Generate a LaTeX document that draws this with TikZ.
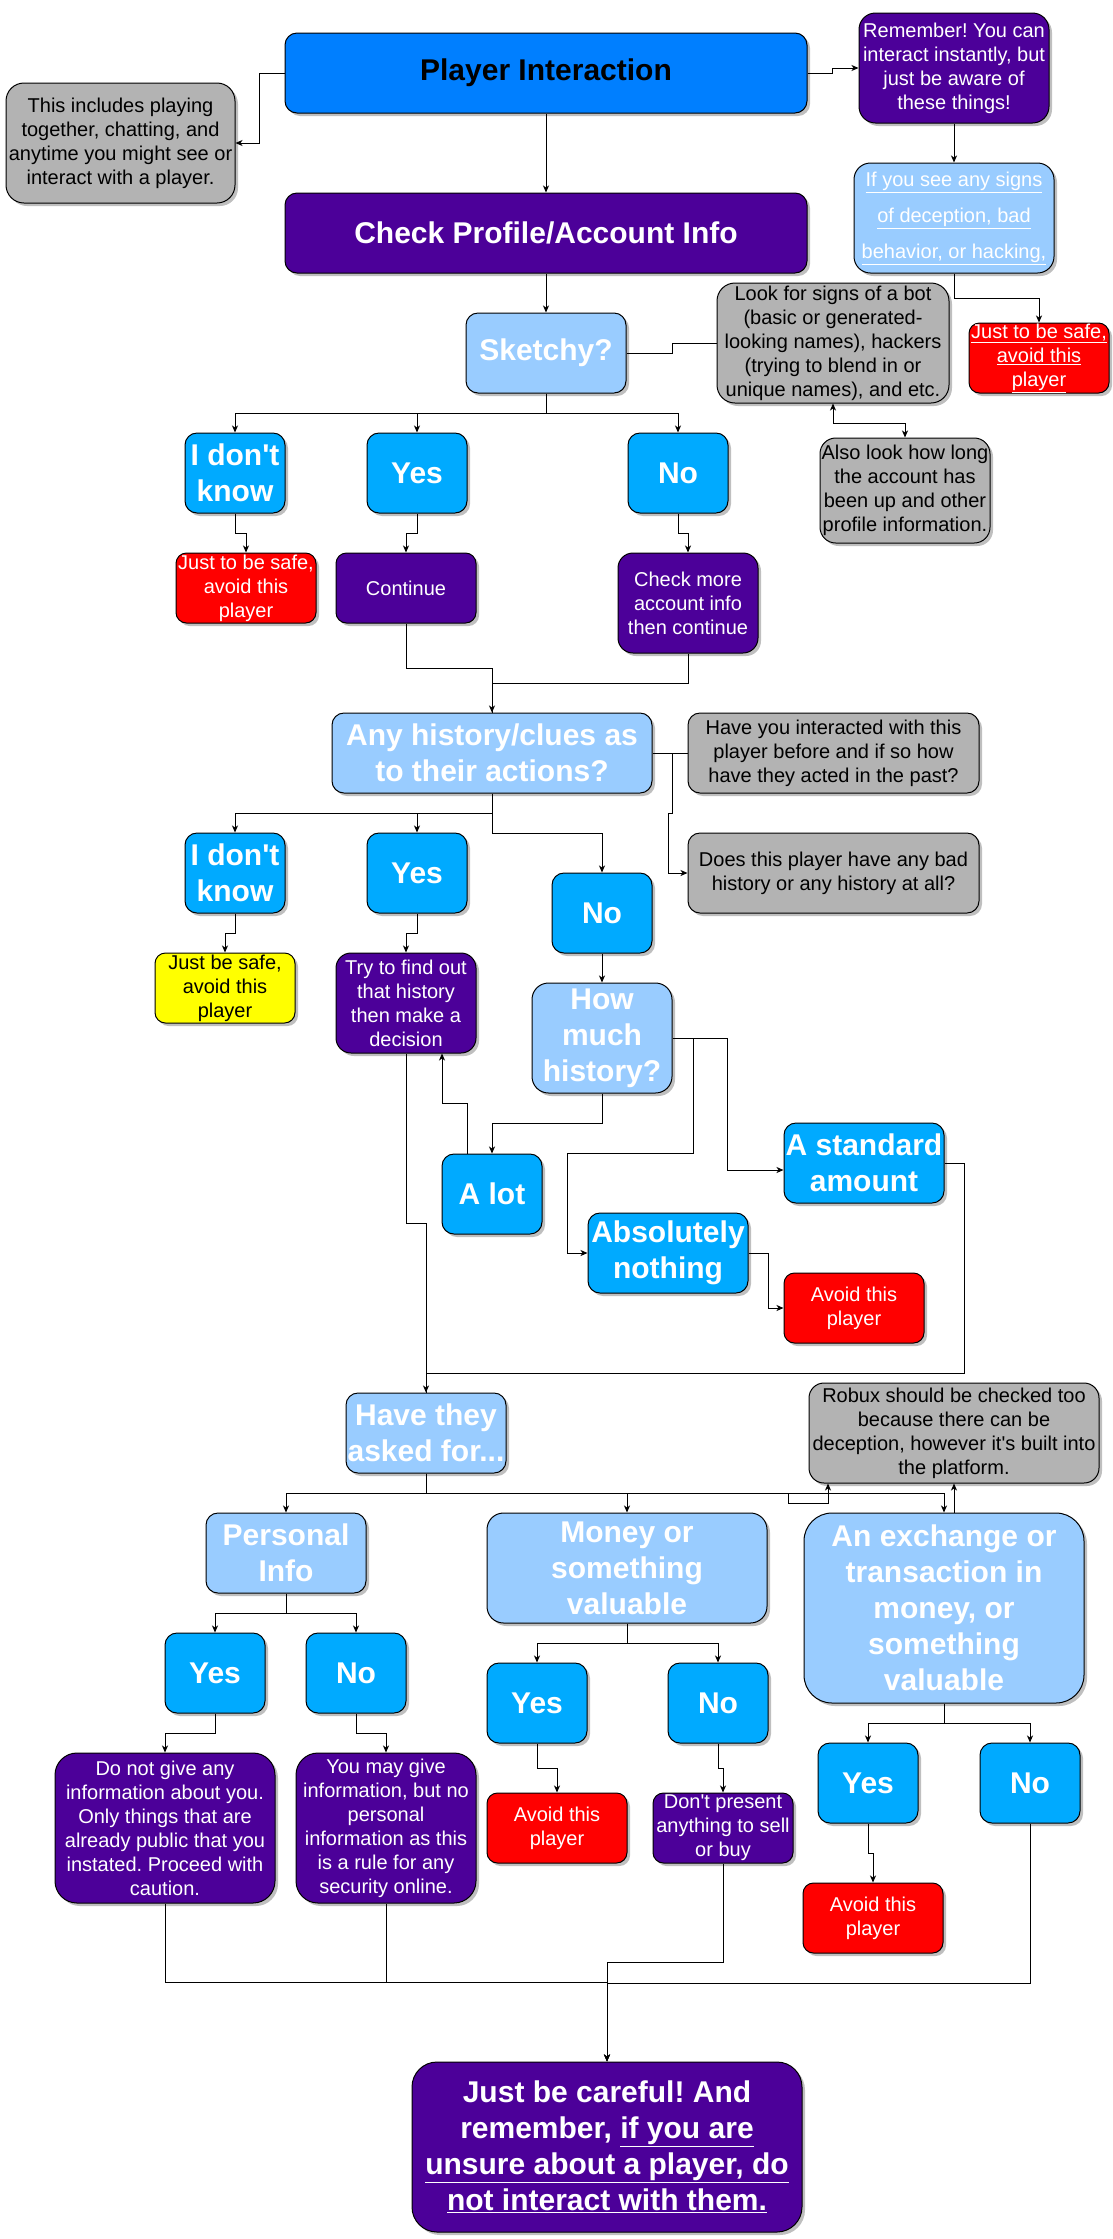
\documentclass[tikz,border=0pt]{standalone}
\usepackage{fontspec}
\setmainfont{Liberation Sans}
\usetikzlibrary{shadows,arrows.meta,calc}
\definecolor{cBlue}{HTML}{007FFF}
\definecolor{cPurple}{HTML}{4C0099}
\definecolor{cLight}{HTML}{99CCFF}
\definecolor{cBright}{HTML}{00AAFF}
\definecolor{cRed}{HTML}{FF0000}
\definecolor{cGray}{HTML}{B3B3B3}
\definecolor{cYellow}{HTML}{FFFF00}
\newcommand{\apo}{\textquotesingle}
\frenchspacing
\begin{document}
\frenchspacing
\begin{tikzpicture}[x=1pt,y=-1pt,line width=1pt,
  base/.style={draw=black, line width=1pt, align=center, inner sep=0pt,
    drop shadow={shadow xshift=3pt, shadow yshift=-3pt, opacity=0.25, fill=black}},
  big/.style={font=\fontsize{30}{36}\selectfont\bfseries\frenchspacing, text=white},
  small/.style={font=\fontsize{20}{24}\selectfont\frenchspacing},
  wh/.style 2 args={minimum width=#1pt, minimum height=#2pt},
  bluebox/.style={base, fill=cBright, big, wh={100}{80}, rounded corners=12pt},
  lightbox/.style={base, fill=cLight, big},
  purplebox/.style={base, fill=cPurple, small, text=white},
  redbox/.style={base, fill=cRed, small, text=white, wh={140}{70}, rounded corners=10.5pt},
  graybox/.style={base, fill=cGray, small, text=black},
  arr/.style={-{Stealth[length=7pt,width=6pt,inset=2pt]}},
  arrboth/.style={{Stealth[length=7pt,width=6pt,inset=2pt]}-{Stealth[length=7pt,width=6pt,inset=2pt]}}
]
\useasboundingbox (0,0) rectangle (1112,2239);
\fill[white] (0,0) rectangle (1112,2239);

% ---------- top ----------
\node[base, fill=cBlue, big, text=black, wh={522}{80}, rounded corners=12pt] (pi) at (546,73) {Player Interaction};
\node[graybox, wh={229}{120}, rounded corners=18pt] (note1) at (120.5,143) {This includes playing\\together, chatting, and\\anytime you might see or\\interact with a player.};
\node[purplebox, wh={190}{110}, rounded corners=16.5pt] (rem) at (954,68) {Remember! You can\\interact instantly, but\\just be aware of\\these things!};
\node[base, fill=cLight, text=white, font=\fontsize{20}{36}\selectfont, wh={200}{110}, rounded corners=16.5pt] (signs) at (954,218) {\underline{If you see any signs}\\\underline{of deception, bad}\\\underline{behavior, or hacking,}};
\node[purplebox, big, wh={522}{80}, rounded corners=12pt] (cp) at (546,233) {Check Profile/Account Info};
\node[lightbox, wh={160}{80}, rounded corners=12pt] (sk) at (546,353) {Sketchy?};
\node[graybox, wh={232}{120}, rounded corners=18pt] (lookbot) at (833,343) {Look for signs of a bot\\(basic or generated-\\looking names), hackers\\(trying to blend in or\\unique names), and etc.};
\node[redbox] (safe1) at (1039,358) {\underline{Just to be safe,}\\\underline{avoid this}\\\underline{player}};
\node[graybox, wh={170}{105}, rounded corners=15.75pt] (alsolook) at (905,490.5) {Also look how long\\the account has\\been up and other\\profile information.};

% ---------- sketchy branches ----------
\node[bluebox] (idk1) at (235,473) {I don\apo t\\know};
\node[bluebox] (yes1) at (417,473) {Yes};
\node[bluebox] (no1) at (678,473) {No};
\node[redbox] (safe2) at (246,588) {Just to be safe,\\avoid this\\player};
\node[purplebox, wh={140}{70}, rounded corners=10.5pt] (cont) at (406,588) {Continue};
\node[purplebox, wh={140}{100}, rounded corners=15pt] (checkmore) at (688,603) {Check more\\account info\\then continue};

% ---------- history ----------
\node[lightbox, wh={320}{80}, rounded corners=12pt] (hist) at (492,753) {Any history/clues as\\to their actions?};
\node[graybox, wh={291}{80}, rounded corners=12pt] (haveint) at (833.5,753) {Have you interacted with this\\player before and if so how\\have they acted in the past?};
\node[graybox, wh={291}{80}, rounded corners=12pt] (badhist) at (833.5,873) {Does this player have any bad\\history or any history at all?};
\node[bluebox] (idk2) at (235,873) {I don\apo t\\know};
\node[bluebox] (yes2) at (417,873) {Yes};
\node[bluebox] (no2) at (602,913) {No};
\node[base, fill=cYellow, small, text=black, wh={140}{70}, rounded corners=10.5pt] (safe3) at (225,988) {Just be safe,\\avoid this\\player};
\node[purplebox, wh={140}{100}, rounded corners=15pt] (tryfind) at (406,1003) {Try to find out\\that history\\then make a\\decision};
\node[lightbox, wh={140}{110}, rounded corners=16.5pt] (howmuch) at (602,1038) {How\\much\\history?};
\node[bluebox] (alot) at (492,1194) {A lot};
\node[bluebox, wh={160}{80}] (standard) at (864,1163) {A standard\\amount};
\node[bluebox, wh={160}{80}] (absnothing) at (668,1253) {Absolutely\\nothing};
\node[redbox] (avoid1) at (854,1308) {Avoid this\\player};

% ---------- asked for ----------
\node[lightbox, wh={160}{80}, rounded corners=12pt] (haveask) at (426,1433) {Have they\\asked for...};
\node[graybox, wh={290}{100}, rounded corners=15pt] (robux) at (954,1433) {Robux should be checked too\\because there can be\\deception, however it\apo s built into\\the platform.};
\node[lightbox, wh={160}{80}, rounded corners=12pt] (personal) at (286,1553) {Personal\\Info};
\node[lightbox, wh={280}{110}, rounded corners=16.5pt] (money) at (627,1568) {Money or\\something\\valuable};
\node[lightbox, wh={280}{190}, rounded corners=28pt] (exchange) at (944,1608) {An exchange or\\transaction in\\money, or\\something\\valuable};
\node[bluebox] (yes3) at (215,1673) {Yes};
\node[bluebox] (no3) at (356,1673) {No};
\node[bluebox] (yes4) at (537,1703) {Yes};
\node[bluebox] (no4) at (718,1703) {No};
\node[bluebox] (yes5) at (868,1783) {Yes};
\node[bluebox] (no5) at (1030,1783) {No};
\node[purplebox, wh={220}{150}, rounded corners=22pt] (donot) at (165,1828) {Do not give any\\information about you.\\Only things that are\\already public that you\\instated. Proceed with\\caution.};
\node[purplebox, wh={180}{150}, rounded corners=22pt] (youmay) at (386,1828) {You may give\\information, but no\\personal\\information as this\\is a rule for any\\security online.};
\node[redbox] (avoid2) at (557,1828) {Avoid this\\player};
\node[purplebox, wh={140}{70}, rounded corners=10.5pt] (dontpresent) at (723,1828) {Don\apo t present\\anything to sell\\or buy};
\node[redbox] (avoid3) at (873,1918) {Avoid this\\player};
\node[purplebox, big, wh={390}{170}, rounded corners=25pt] (final) at (607,2147) {Just be careful! And\\remember, \underline{if you are}\\\underline{unsure about a player, do}\\\underline{not interact with them.}};

% ---------- connectors ----------
\draw[arr] (pi.west) -- ++(-25,0) |- (note1.east);
\draw[arr] (pi.east) -- ++(25,0) |- (rem.west);
\draw[arr] (rem.south) -- (signs.north);
\draw[arr] (signs.south) -- ++(0,25) -| (safe1.north);
\draw[arr] (pi.south) -- (cp.north);
\draw[arr] (cp.south) -- (sk.north);
\draw (sk.east) -- ++(46,0) |- (lookbot.west);
\draw[arrboth] (lookbot.south) -- ++(0,20) -| (alsolook.north);

\draw[arr] (sk.south) -- ++(0,20) -| (idk1.north);
\draw[arr] (sk.south) -- ++(0,20) -| (yes1.north);
\draw[arr] (sk.south) -- ++(0,20) -| (no1.north);
\draw[arr] (idk1.south) -- ++(0,20) -| (safe2.north);
\draw[arr] (yes1.south) -- ++(0,20) -| (cont.north);
\draw[arr] (no1.south) -- ++(0,20) -| (checkmore.north);
\draw[arr] (cont.south) -- ++(0,45) -| (hist.north);
\draw (checkmore.south) -- ++(0,30) -| (hist.north);

\draw (hist.east) -- (haveint.west);
\draw[arr] (hist.east) -- ++(20,0) -- ++(0,60) -- ++(-4,0) |- (badhist.west);
\draw[arr] (hist.south) -- ++(0,20) -| (idk2.north);
\draw[arr] (hist.south) -- ++(0,20) -| (yes2.north);
\draw[arr] (hist.south) -- ++(0,40) -| (no2.north);
\draw[arr] (idk2.south) -- ++(0,20) -| (safe3.north);
\draw[arr] (yes2.south) -- ++(0,20) -| (tryfind.north);
\draw[arr] (no2.south) -- (howmuch.north);
\draw[arr] (howmuch.south) -- ++(0,30) -| (alot.north);
\draw[arr] ([xshift=-25pt]alot.north) -- ++(0,-50) -| ([xshift=36pt]tryfind.south);
\draw[arr] (tryfind.south) -- ++(0,170) -| (haveask.north);
\draw[arr] (howmuch.east) -- ++(55,0) |- ([yshift=-7pt]standard.west);
\draw[arr] (howmuch.east) -- ++(21,0) -- ++(0,115) -- ++(-126,0) |- (absnothing.west);
\draw[arr] (absnothing.east) -- ++(20,0) |- (avoid1.west);
\draw (standard.east) -- ++(20,0) -- ++(0,210) -| (haveask.north);

\draw[arr] (haveask.south) -- ++(0,20) -| (personal.north);
\draw[arr] (haveask.south) -- ++(0,20) -| (money.north);
\draw[arr] (haveask.south) -- ++(0,20) -| (exchange.north);
\draw[arr] (haveask.south) -- ++(0,20) -- ++(362,0) -- ++(0,10) -| ([xshift=-126pt]robux.south);
\draw[arr] (exchange.north -| robux.south) -- (robux.south);

\draw[arr] (personal.south) -- ++(0,20) -| (yes3.north);
\draw[arr] (personal.south) -- ++(0,20) -| (no3.north);
\draw[arr] (money.south) -- ++(0,20) -| (yes4.north);
\draw[arr] (money.south) -- ++(0,20) -| (no4.north);
\draw[arr] (exchange.south) -- ++(0,20) -| (yes5.north);
\draw[arr] (exchange.south) -- ++(0,20) -| (no5.north);
\draw[arr] (yes3.south) -- ++(0,20) -| (donot.north);
\draw[arr] (no3.south) -- ++(0,20) -| (youmay.north);
\draw[arr] (yes4.south) -- ++(0,25) -| (avoid2.north);
\draw[arr] (no4.south) -- ++(0,25) -| (dontpresent.north);
\draw[arr] (yes5.south) -- ++(0,30) -| (avoid3.north);

\draw[arr] (donot.south) -- ++(0,79) -| (final.north);
\draw (youmay.south) -- ++(0,79);
\draw[arr] (dontpresent.south) -- ++(0,99) -| (final.north);
\draw[arr] (no5.south) -- ++(0,160) -| (final.north);
\end{tikzpicture}
\end{document}
